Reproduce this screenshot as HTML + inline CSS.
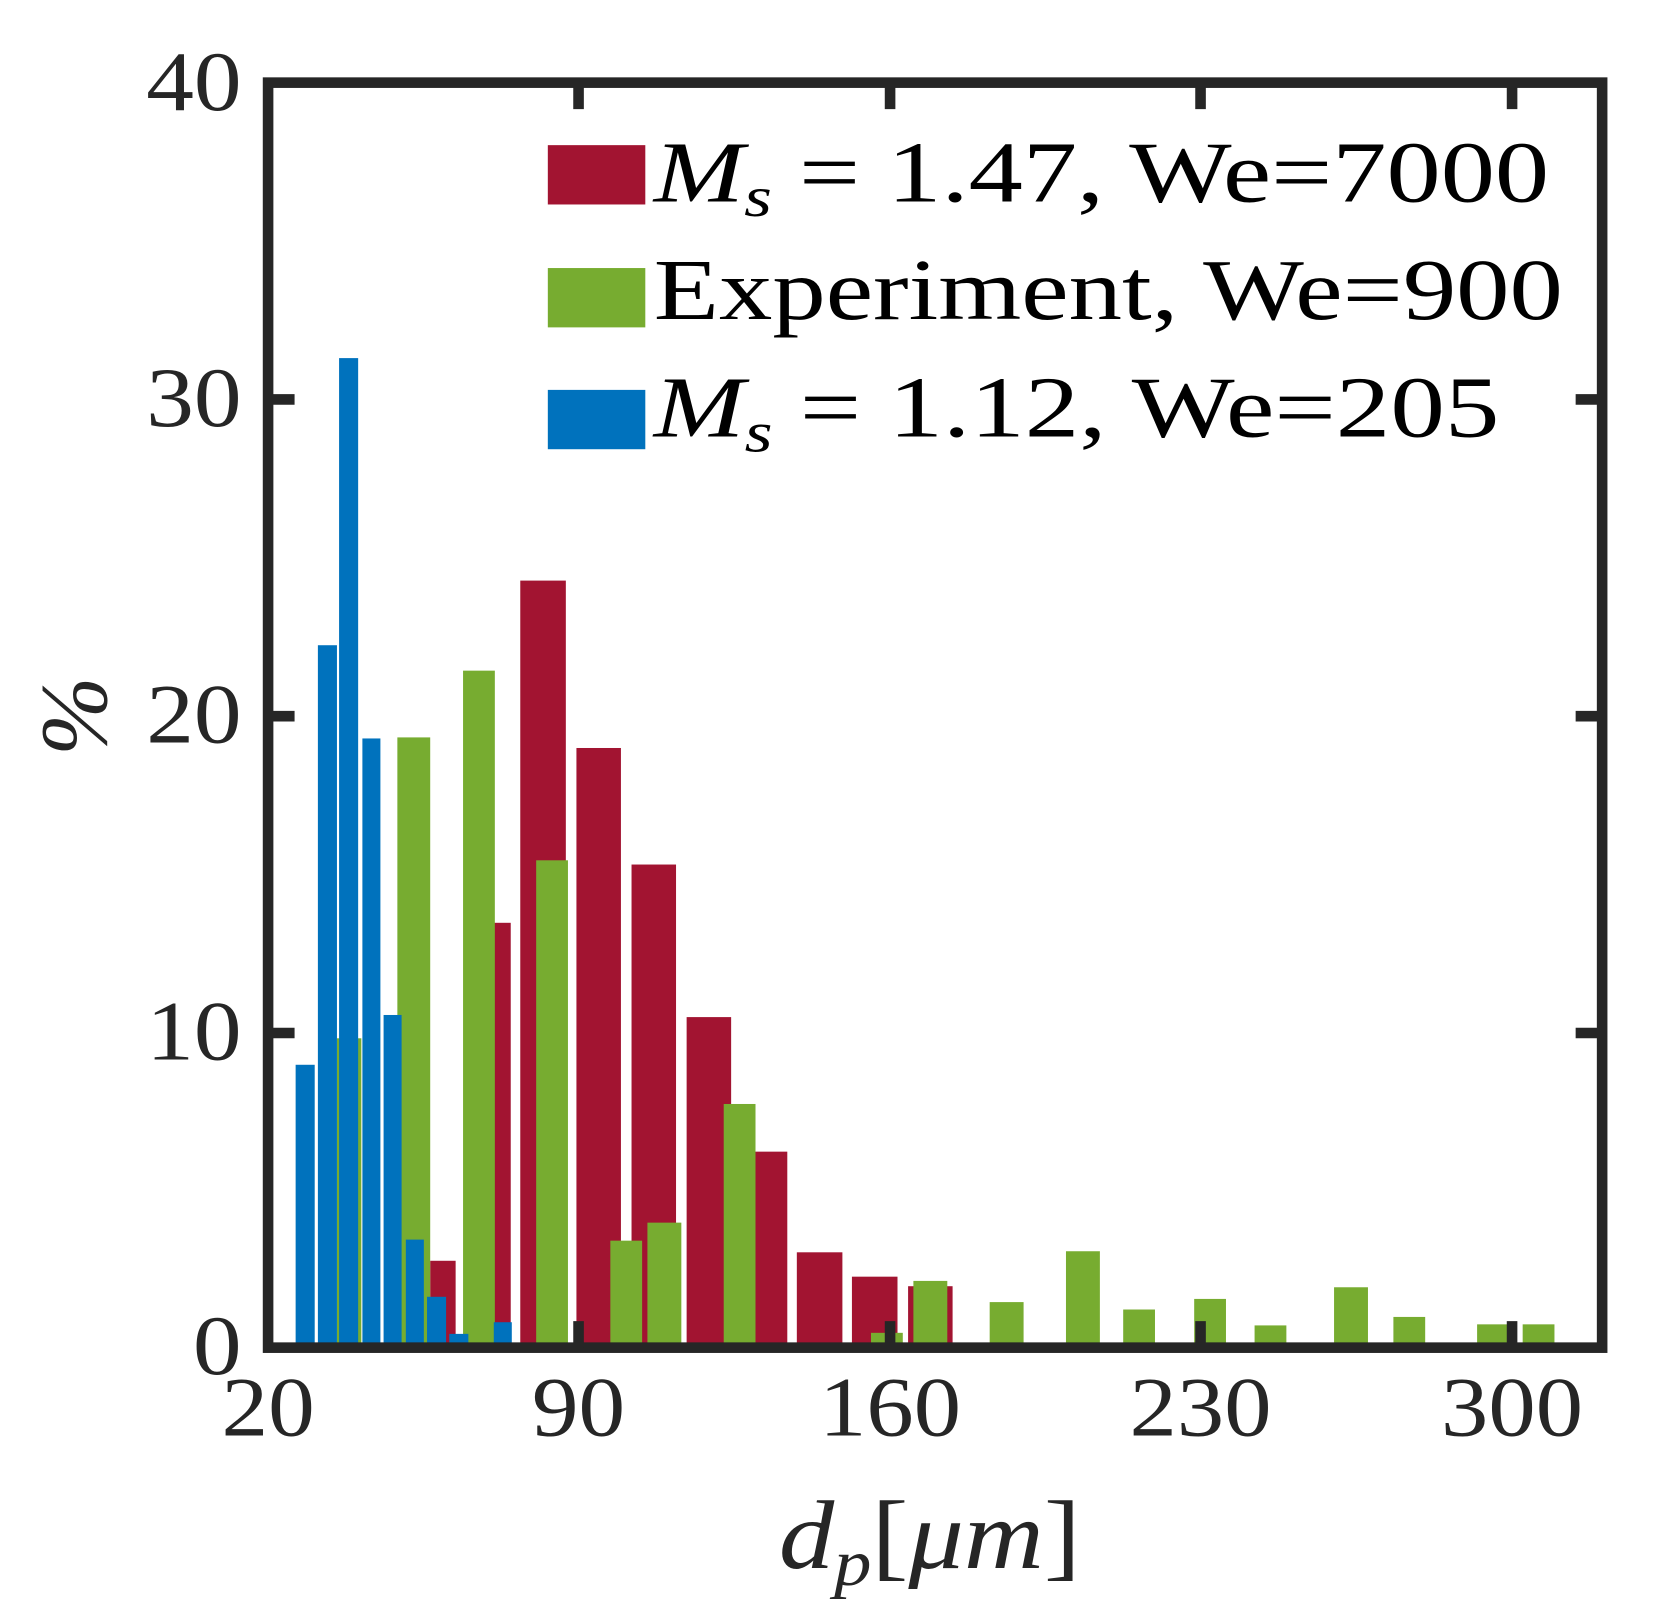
<!DOCTYPE html>
<html><head><meta charset="utf-8"><style>html,body{margin:0;padding:0;background:#fff}svg{display:block}</style></head>
<body>
<svg width="1653" height="1621" viewBox="0 0 1560 1530" preserveAspectRatio="none" xmlns="http://www.w3.org/2000/svg">
<rect width="1560" height="1530" fill="#fff"/>
<g fill="#A21431">
<rect x="406" y="1190" width="24" height="82"/>
<rect x="440" y="871" width="42" height="401"/>
<rect x="491" y="548" width="43" height="724"/>
<rect x="544" y="706" width="42" height="566"/>
<rect x="596" y="816" width="42" height="456"/>
<rect x="648" y="960" width="42" height="312"/>
<rect x="700" y="1087" width="43" height="185"/>
<rect x="752" y="1182" width="43" height="90"/>
<rect x="804" y="1205" width="43" height="67"/>
<rect x="857" y="1214" width="42" height="58"/>
</g>
<g fill="#77AC30">
<rect x="318" y="980" width="23" height="292"/>
<rect x="375" y="696" width="31" height="576"/>
<rect x="437" y="633" width="30" height="639"/>
<rect x="506" y="812" width="30" height="460"/>
<rect x="576" y="1171" width="30" height="101"/>
<rect x="611" y="1154" width="32" height="118"/>
<rect x="683" y="1042" width="30" height="230"/>
<rect x="822" y="1258" width="30" height="14"/>
<rect x="862" y="1209" width="32" height="63"/>
<rect x="934" y="1229" width="32" height="43"/>
<rect x="1006" y="1181" width="32" height="91"/>
<rect x="1060" y="1236" width="30" height="36"/>
<rect x="1127" y="1226" width="30" height="46"/>
<rect x="1184" y="1251" width="30" height="21"/>
<rect x="1259" y="1215" width="32" height="57"/>
<rect x="1315" y="1243" width="30" height="29"/>
<rect x="1394" y="1250" width="30" height="22"/>
<rect x="1437" y="1250" width="30" height="22"/>
</g>
<g fill="#0072BD">
<rect x="279" y="1005" width="18" height="267"/>
<rect x="300" y="609" width="18" height="663"/>
<rect x="320" y="338" width="18" height="934"/>
<rect x="342" y="697" width="17" height="575"/>
<rect x="362" y="958" width="17" height="314"/>
<rect x="383" y="1170" width="17" height="102"/>
<rect x="403" y="1224" width="18" height="48"/>
<rect x="424" y="1259" width="18" height="13"/>
<rect x="466" y="1248" width="17" height="24"/>
</g>
<g stroke="#262626" stroke-width="10" fill="none">
<rect x="253" y="78" width="1259" height="1194"/>
<path d="M546 78v25M840 78v25M1133 78v25M1427 78v25M546 1272v-25M840 1272v-25M1133 1272v-25M1427 1272v-25M253 377h25M253 676h25M253 975h25M1512 377h-25M1512 676h-25M1512 975h-25"/>
</g>
<rect x="517" y="137" width="92" height="56" fill="#A21431"/>
<rect x="517" y="253" width="92" height="56" fill="#77AC30"/>
<rect x="517" y="368" width="92" height="56" fill="#0072BD"/>
<g font-family="Liberation Serif, serif" font-size="82" fill="#000">
<text x="617" y="190" textLength="845" lengthAdjust="spacingAndGlyphs"><tspan font-style="italic">M</tspan><tspan font-style="italic" font-size="54" dy="14">s</tspan><tspan dy="-14"> = 1.47, We=7000</tspan></text>
<text x="617" y="301" textLength="858" lengthAdjust="spacingAndGlyphs">Experiment, We=900</text>
<text x="617" y="412" textLength="798" lengthAdjust="spacingAndGlyphs"><tspan font-style="italic">M</tspan><tspan font-style="italic" font-size="54" dy="14">s</tspan><tspan dy="-14"> = 1.12, We=205</tspan></text>
</g>
<g font-family="Liberation Serif, serif" font-size="80" fill="#262626">
<g text-anchor="end">
<text x="228" y="104" textLength="90" lengthAdjust="spacingAndGlyphs">40</text>
<text x="228" y="402" textLength="90" lengthAdjust="spacingAndGlyphs">30</text>
<text x="228" y="701" textLength="90" lengthAdjust="spacingAndGlyphs">20</text>
<text x="228" y="1000" textLength="90" lengthAdjust="spacingAndGlyphs">10</text>
<text x="228" y="1297" textLength="46" lengthAdjust="spacingAndGlyphs">0</text>
</g>
<g text-anchor="middle">
<text x="253" y="1355" textLength="88" lengthAdjust="spacingAndGlyphs">20</text>
<text x="546" y="1355" textLength="88" lengthAdjust="spacingAndGlyphs">90</text>
<text x="840" y="1355" textLength="134" lengthAdjust="spacingAndGlyphs">160</text>
<text x="1133" y="1355" textLength="134" lengthAdjust="spacingAndGlyphs">230</text>
<text x="1427" y="1355" textLength="134" lengthAdjust="spacingAndGlyphs">300</text>
</g>
<text x="735" y="1480" font-size="92" textLength="285" lengthAdjust="spacingAndGlyphs"><tspan font-style="italic">d</tspan><tspan font-style="italic" font-size="62" dy="16">p</tspan><tspan dy="-16">[</tspan><tspan font-style="italic">μm</tspan>]</text>
<text transform="translate(100,676) rotate(-90)" text-anchor="middle" font-size="90" font-style="italic">%</text>
</g>
</svg>
</body></html>
